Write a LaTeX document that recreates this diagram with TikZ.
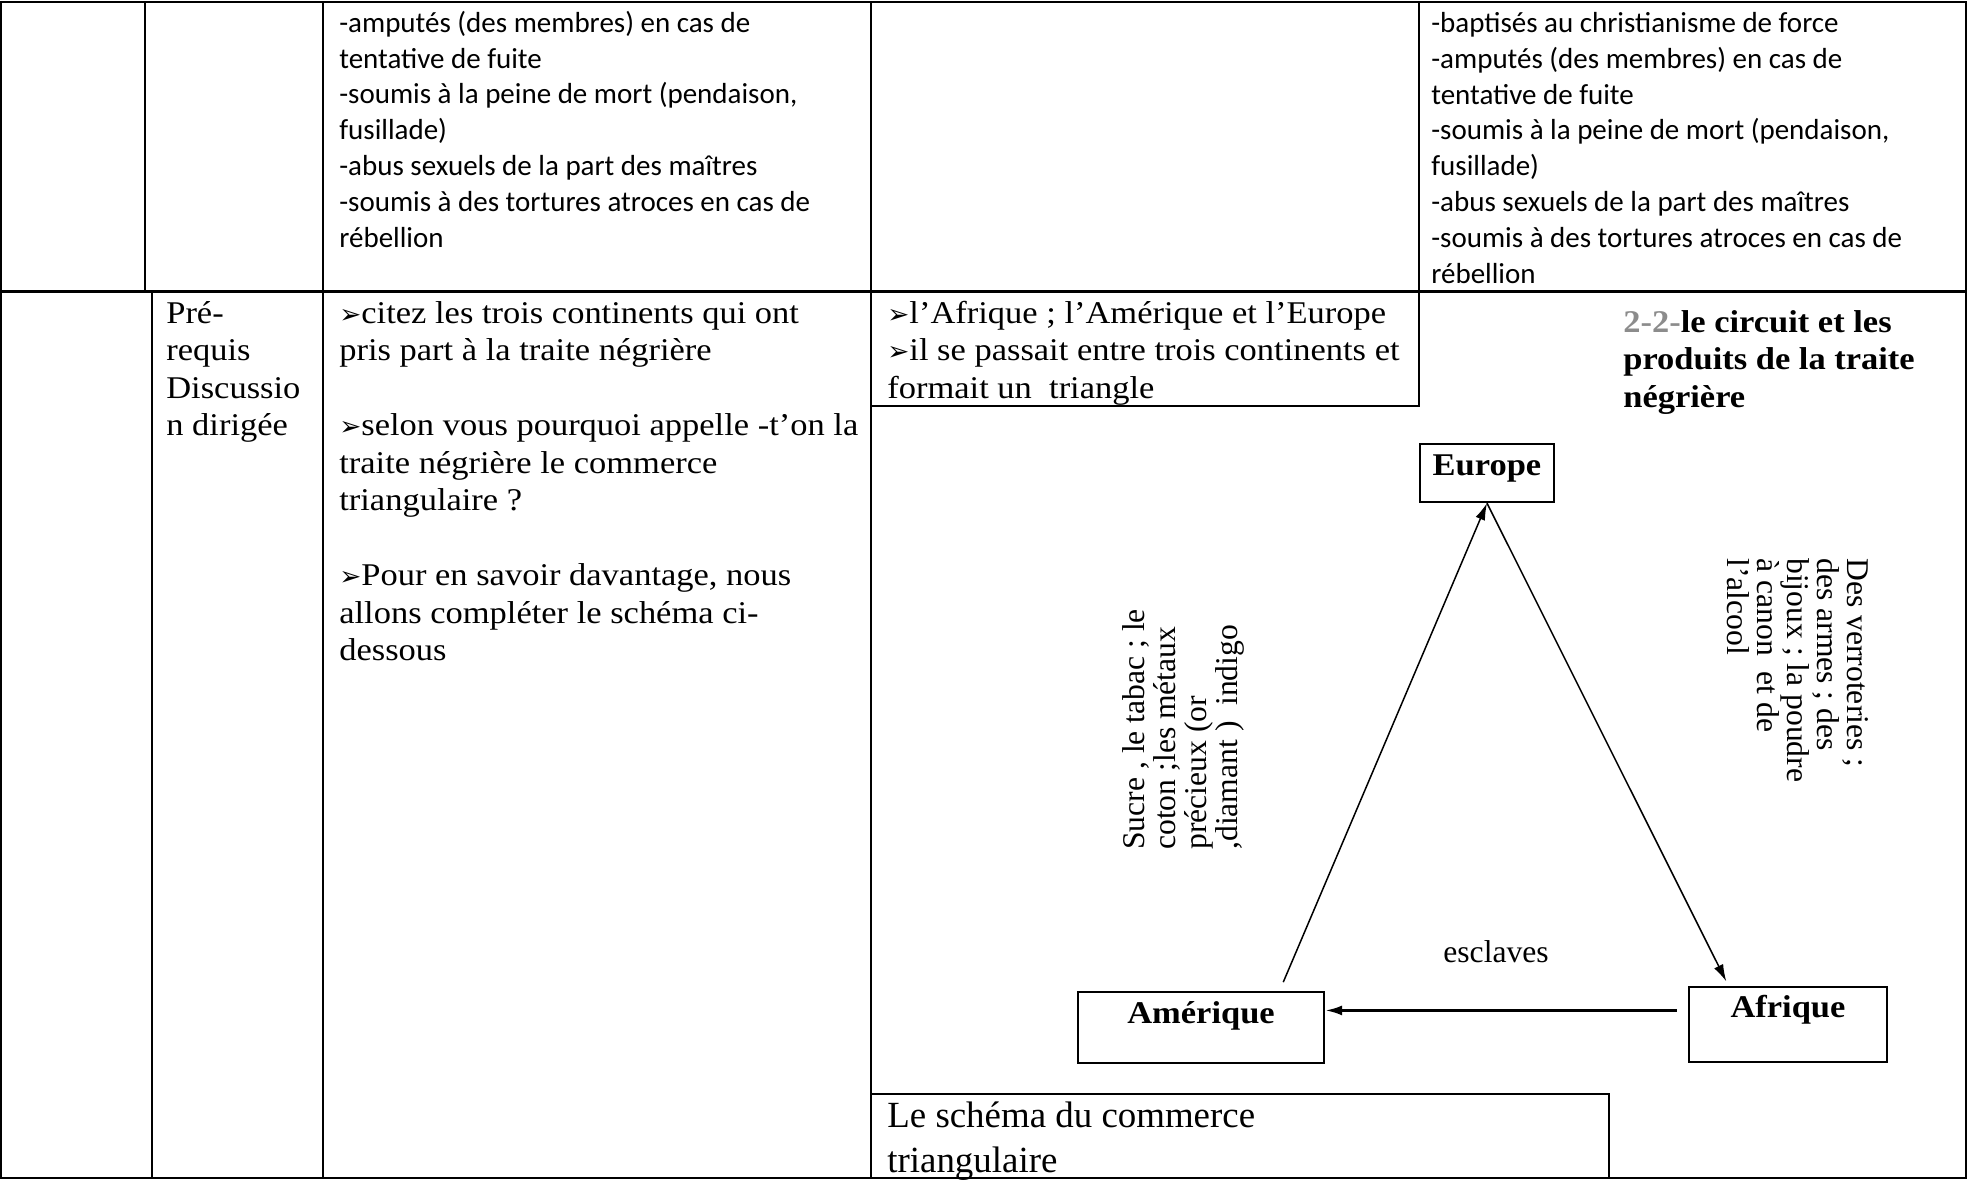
\documentclass[tikz,border=0pt]{standalone}
\usepackage{fontspec}
\setmainfont{Liberation Serif}
\newfontfamily\cambria{Liberation Serif}[FakeStretch=1.09]
\newfontfamily\calibri{Carlito}
\newfontfamily\symb{DejaVu Sans}
\usetikzlibrary{arrows.meta}

\newcommand\puce{{\symb\fontsize{15}{15}\selectfont ➢}}

\tikzset{
  grid line/.style={line width=0.04cm},
  txt/.style={anchor=base west, align=left, inner sep=0pt},
  continent/.style={draw, line width=0.045cm, anchor=base, inner sep=0pt,
    font=\cambria\bfseries\fontsize{18}{21}\selectfont},
  trade/.style={->, line width=0.03cm},
}

\begin{document}
\begin{tikzpicture}[x=0.02cm, y=-0.02cm, >={Latex[length=0.34cm,width=0.2cm]}]

% page and table frame
\useasboundingbox (0,0) rectangle (1968,1181);
\fill[white] (0,0) rectangle (1968,1181);
\draw[line width=0.055cm] (1,2) rectangle (1966,1178);
\draw[line width=0.06cm] (1,291) -- (1966,291);
\foreach \x in {145,323,871,1419}
  \draw[grid line] (\x,2) -- (\x,291);
\foreach \x in {152,323,871}
  \draw[grid line] (\x,291) -- (\x,1178);

% answer box and caption box
\draw[grid line] (871,406) -| (1419,291);
\draw[grid line] (871,1094) -| (1609,1178);

% first row (nodes sit on the baseline of their last line)
\node[txt, font=\calibri\fontsize{16.5}{20.37}\selectfont] (chatiments) at (339,247)
  {-amputés (des membres) en cas de\\tentative de fuite\\-soumis à la peine de mort (pendaison,\\fusillade)\\-abus sexuels de la part des maîtres\\-soumis à des tortures atroces en cas de\\rébellion};
\node[txt, font=\calibri\fontsize{16.5}{20.37}\selectfont] (traitements) at (1431,283)
  {-baptisés au christianisme de force\\-amputés (des membres) en cas de\\tentative de fuite\\-soumis à la peine de mort (pendaison,\\fusillade)\\-abus sexuels de la part des maîtres\\-soumis à des tortures atroces en cas de\\rébellion};

% second row
\node[txt, font=\cambria\fontsize{18}{21.34}\selectfont] (methode) at (166,435.5)
  {Pré-\\requis\\Discussio\\n dirigée};
\node[txt, font=\cambria\fontsize{18}{21.34}\selectfont] (questions) at (339,660.5)
  {\puce citez les trois continents qui ont\\pris part à la traite négrière\\[\baselineskip]
   \puce selon vous pourquoi appelle -t’on la\\traite négrière le commerce\\triangulaire ?\\[\baselineskip]
   \puce Pour en savoir davantage, nous\\allons compléter le schéma ci-\\dessous};
\node[txt, font=\cambria\fontsize{18}{21.34}\selectfont] (reponses) at (887,398)
  {\puce l’Afrique ; l’Amérique et l’Europe\\\puce il se passait entre trois continents et\\formait un\ \ triangle};
\node[txt, font=\cambria\bfseries\fontsize{18}{21.34}\selectfont] (titre) at (1623,407)
  {{\color{black!45}2-2-}le circuit et les\\produits de la traite\\négrière};

% triangular trade
\node[continent, minimum width=2.68cm, text height=0.62cm, text depth=0.54cm] (europe) at (1487,475) {Europe};
\node[continent, minimum width=4.92cm, text height=0.62cm, text depth=0.8cm] (amerique) at (1201,1023) {Amérique};
\node[continent, minimum width=3.96cm, text height=0.6cm, text depth=0.9cm] (afrique) at (1788,1017) {Afrique};

\draw[trade, shorten <=0.19cm] (amerique.25) -- (europe.south);
\draw[trade, shorten >=0.1cm] (europe.south) -- (afrique.147);
\draw[trade, line width=0.055cm, shorten <=0.22cm] (afrique.172) -- (afrique.172 -| amerique.east);

% goods along the sides
\node[txt, rotate=90, font=\fontsize{18}{17.5}\selectfont] (produits amerique) at (1237,850)
  {Sucre , le tabac ; le\\coton ;les métaux\\précieux (or\\,diamant )\ \ indigo};
\node[txt, rotate=-90, font=\fontsize{18}{17.1}\selectfont] (produits europe) at (1727,558)
  {Des verroteries ;\\des armes ; des\\bijoux ; la poudre\\à canon\ \ et de\\l'alcool};
\node[txt, font=\fontsize{18}{21}\selectfont] (esclaves) at (1443,962) {esclaves};

% caption
\node[txt, font=\fontsize{21}{25.6}\selectfont] (legende) at (887,1172)
  {Le schéma du commerce\\triangulaire};

\end{tikzpicture}
\end{document}
